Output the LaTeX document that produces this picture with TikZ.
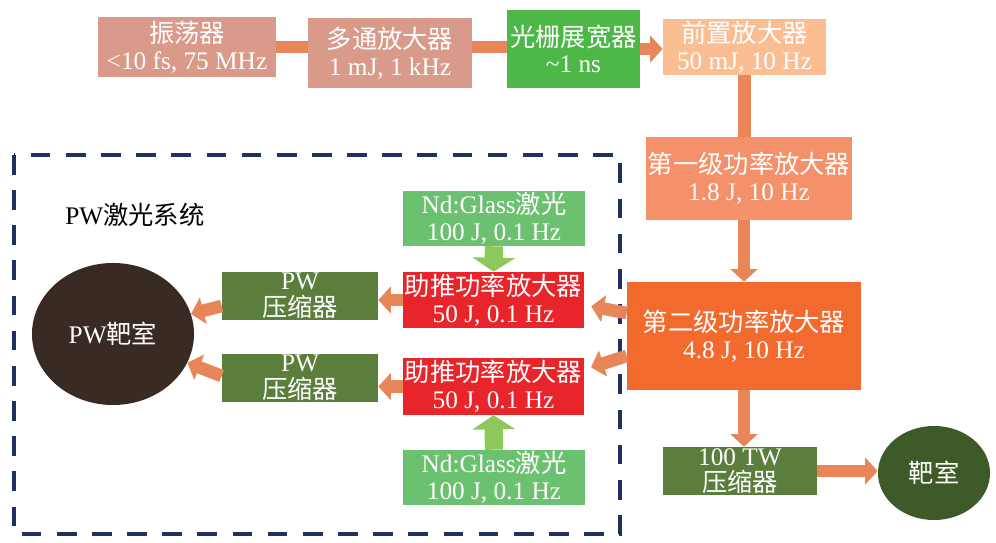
\documentclass[tikz,border=0pt]{standalone}
\usepackage{fontspec}
\setmainfont{Liberation Serif}
\newfontfamily\cjk{Noto Sans CJK SC}
\usetikzlibrary{calc, arrows.meta, shapes.geometric}

\definecolor{seedpink}{HTML}{D99A89}
\definecolor{stretchgr}{HTML}{4DB748}
\definecolor{prepeach}{HTML}{FBBE92}
\definecolor{firstor}{HTML}{F4916B}
\definecolor{secondor}{HTML}{F26A2D}
\definecolor{compgr}{HTML}{5B7E3C}
\definecolor{targetgr}{HTML}{3E5A28}
\definecolor{pwbrown}{HTML}{3A2A24}
\definecolor{boostred}{HTML}{E8252B}
\definecolor{ndgr}{HTML}{6CC170}
\definecolor{pumpgr}{HTML}{8DC85A}
\definecolor{beamor}{HTML}{E8865A}
\definecolor{framebl}{HTML}{1F3160}

\begin{document}
\begin{tikzpicture}[
  x=0.025cm, y=-0.025cm,
  font=\fontsize{18}{19}\selectfont,
  blk/.style={rectangle, inner sep=0pt, text=white, align=center},
  chamber/.style={ellipse, inner sep=0pt, text=white, align=center},
  beam/.style={draw=beamor, line width=9pt},
  beamarr/.style={beam, -{Triangle[length=9pt,width=19pt]}},
  pumparr/.style={draw=pumpgr, line width=13pt, -{Triangle[length=10pt,width=30pt]}},
  pwbox/.style={draw=framebl, line width=3pt, dash pattern=on 14pt off 11pt},
]
  \useasboundingbox (0,0) rectangle (996,543);

  % 虚线框 PW 激光系统
  \draw[pwbox] (14,155) rectangle (620,534);
  \node (pwlabel) at (135,215) {PW{\cjk 激光系统}};

  % 主链
  \node[blk, fill=seedpink, minimum width=4.45cm, minimum height=1.5cm] (osc) at (187,47)
    {{\cjk 振荡器}\\<10 fs, 75 MHz};
  \node[blk, fill=seedpink, minimum width=4.1cm, minimum height=1.75cm] (multi) at (390,53)
    {{\cjk 多通放大器}\\1 mJ, 1 kHz};
  \node[blk, fill=stretchgr, minimum width=3.325cm, minimum height=1.95cm] (stretch) at (573.5,49)
    {{\cjk 光栅展宽器}\\\textasciitilde1 ns};
  \node[blk, fill=prepeach, minimum width=4.075cm, minimum height=1.4cm] (pre) at (744.5,47)
    {{\cjk 前置放大器}\\50 mJ, 10 Hz};
  \node[blk, fill=firstor, minimum width=5.15cm, minimum height=2.075cm] (first) at (749,178.5)
    {{\cjk 第一级功率放大器}\\1.8 J, 10 Hz};
  \node[blk, fill=secondor, minimum width=5.85cm, minimum height=2.7cm] (second) at (744,336)
    {{\cjk 第二级功率放大器}\\4.8 J, 10 Hz};
  \node[blk, fill=compgr, minimum width=3.85cm, minimum height=1.2cm] (twcomp) at (740,471)
    {100 TW\\{\cjk 压缩器}};
  \node[chamber, fill=targetgr, minimum width=2.8cm, minimum height=2.35cm] (target) at (934,473)
    {\cjk 靶室};

  % PW 支路
  \node[blk, fill=ndgr, minimum width=4.55cm, minimum height=1.375cm] (ndA) at (494,218.5)
    {Nd:Glass{\cjk 激光}\\100 J, 0.1 Hz};
  \node[blk, fill=boostred, minimum width=4.525cm, minimum height=1.4cm] (boostA) at (493.5,300)
    {{\cjk 助推功率放大器}\\50 J, 0.1 Hz};
  \node[blk, fill=boostred, minimum width=4.525cm, minimum height=1.425cm] (boostB) at (493.5,386.5)
    {{\cjk 助推功率放大器}\\50 J, 0.1 Hz};
  \node[blk, fill=ndgr, minimum width=4.55cm, minimum height=1.375cm] (ndB) at (494,477.5)
    {Nd:Glass{\cjk 激光}\\100 J, 0.1 Hz};
  \node[blk, fill=compgr, minimum width=3.9cm, minimum height=1.2cm] (pwcA) at (300,296)
    {PW\\{\cjk 压缩器}};
  \node[blk, fill=compgr, minimum width=3.9cm, minimum height=1.2cm] (pwcB) at (300,378)
    {PW\\{\cjk 压缩器}};
  \node[chamber, fill=pwbrown, minimum width=4.05cm, minimum height=3.55cm] (pwtarget) at (113,334)
    {PW{\cjk 靶室}};

  % 光路
  \draw[beam] (osc) -- (osc -| multi.west);
  \draw[beam] (multi.east |- osc) -- (osc -| stretch.west);
  \draw[beamarr] (stretch) -- (stretch -| pre.west);
  \draw[beam] (pre.south) -- (pre.south |- first.north);
  \draw[beamarr] (second.north |- first.south) -- (second.north);
  \draw[beamarr] (second.south) -- (second.south |- twcomp.north);
  \draw[beamarr] (twcomp.east) -- (twcomp.east -| target.west);
  \draw[beamarr, shorten >=5pt] ($(second.west)+(0,-23)$) -- ($(boostA.east)+(0,5)$);
  \draw[beamarr, shorten >=5pt] ($(second.west)+(0,20)$) -- ($(boostB.east)+(0,-17)$);
  \draw[beamarr] (boostA.west) -- (boostA.west -| pwcA.east);
  \draw[beamarr] (boostB.west) -- (boostB.west -| pwcB.east);
  \draw[beamarr] ($(pwcA.west)+(0,10)$) -- (pwtarget);
  \draw[beamarr] ($(pwcB.west)+(0,-2)$) -- (pwtarget);

  % 泵浦
  \draw[pumparr] (ndA.south) -- (boostA.north);
  \draw[pumparr] (ndB.north) -- (boostB.south);
\end{tikzpicture}
\end{document}
